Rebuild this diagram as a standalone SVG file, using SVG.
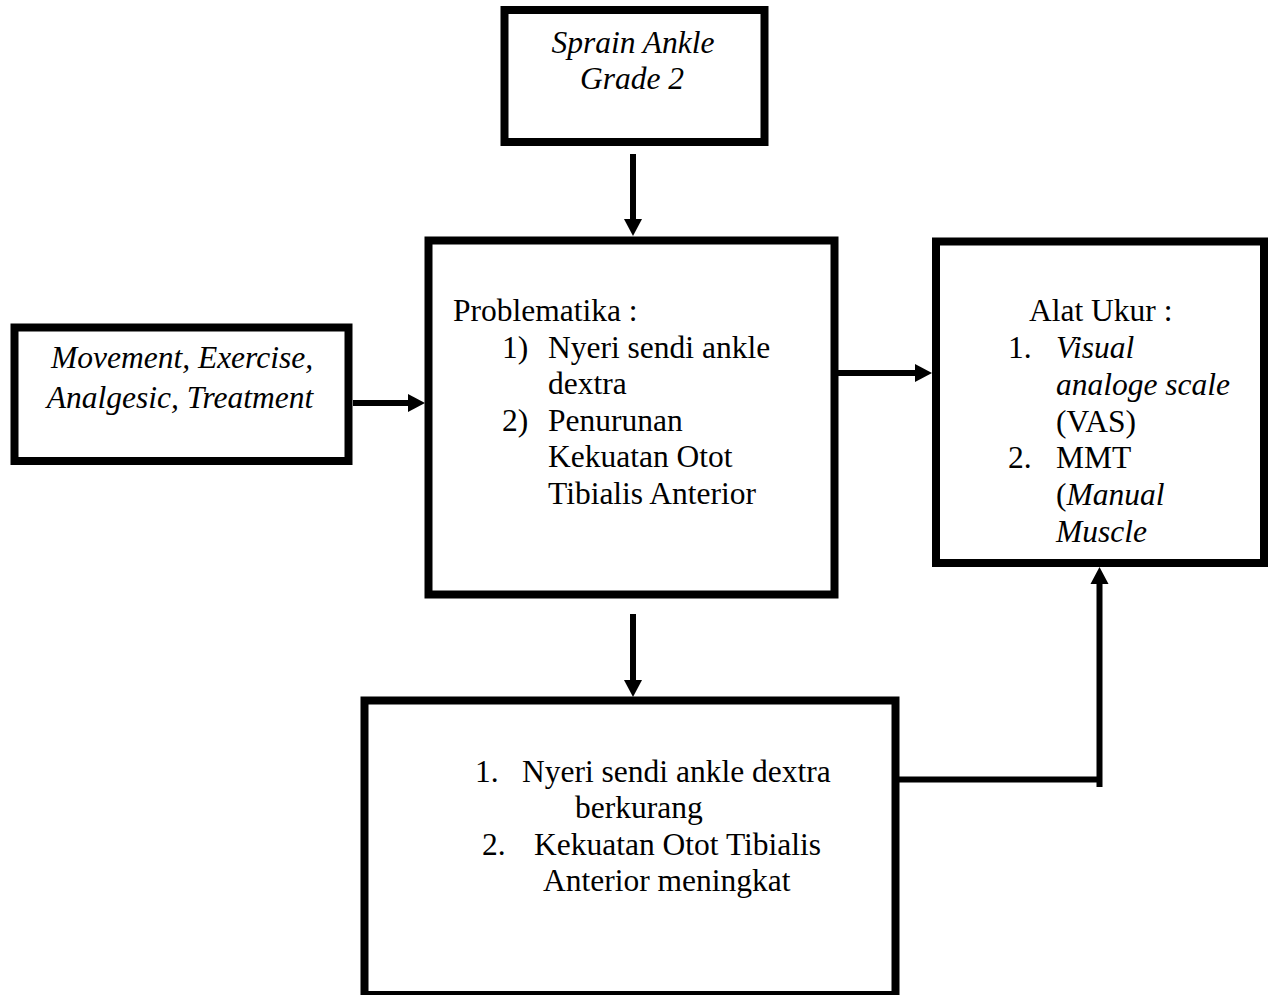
<svg xmlns="http://www.w3.org/2000/svg" width="1268" height="995" viewBox="0 0 1268 995">
<style>
.box{fill:#fff;stroke:#000;stroke-width:8}
.t{font-family:"Liberation Serif","Times New Roman",serif;font-size:31.5px;fill:#000}
.i{font-style:italic}
.c{stroke:#000;stroke-width:6;fill:none}
</style>
<defs>
<marker id="ah" markerUnits="userSpaceOnUse" markerWidth="17" markerHeight="18" refX="0" refY="9" orient="auto" overflow="visible">
<path d="M0,0 L17,9 L0,18 Z" fill="#000"/>
</marker>
</defs>
<rect width="1268" height="995" fill="#fff"/>
<g id="connectors">
<line class="c" x1="633" y1="154" x2="633" y2="219" marker-end="url(#ah)"/>
<line class="c" x1="353" y1="403" x2="408" y2="403" marker-end="url(#ah)"/>
<line class="c" x1="838" y1="373" x2="915" y2="373" marker-end="url(#ah)"/>
<line class="c" x1="633" y1="614" x2="633" y2="680" marker-end="url(#ah)"/>
<line class="c" x1="899" y1="779.5" x2="1102" y2="779.5"/>
<line class="c" x1="1099.5" y1="787" x2="1099.5" y2="584" marker-end="url(#ah)"/>
</g>
<g id="sprain">
<rect class="box" x="504.5" y="10" width="260" height="132" stroke-width="7"/>
<text class="t i" x="633" y="53" text-anchor="middle">Sprain Ankle</text>
<text class="t i" x="632" y="89" text-anchor="middle">Grade 2</text>
</g>
<g id="intervensi">
<rect class="box" x="14.5" y="327.5" width="334" height="133.5" stroke-width="8.5"/>
<text class="t i" x="182" y="368" text-anchor="middle">Movement, Exercise,</text>
<text class="t i" x="180" y="408" text-anchor="middle">Analgesic, Treatment</text>
</g>
<g id="problematika">
<rect class="box" x="428.5" y="240.5" width="406" height="354"/>
<text class="t" x="453" y="321">Problematika :</text>
<text class="t" x="502" y="357.6">1)</text>
<text class="t" x="548" y="357.6">Nyeri sendi ankle</text>
<text class="t" x="548" y="394.2">dextra</text>
<text class="t" x="502" y="430.8">2)</text>
<text class="t" x="548" y="430.8">Penurunan</text>
<text class="t" x="548" y="467.4">Kekuatan Otot</text>
<text class="t" x="548" y="504">Tibialis Anterior</text>
</g>
<g id="alatukur">
<rect class="box" x="936" y="241.5" width="328" height="321.5"/>
<text class="t" x="1029" y="321">Alat Ukur :</text>
<text class="t" x="1008" y="358">1.</text>
<text class="t i" x="1056" y="358">Visual</text>
<text class="t i" x="1056" y="395">analoge scale</text>
<text class="t" x="1056" y="432">(VAS)</text>
<text class="t" x="1008" y="468">2.</text>
<text class="t" x="1056" y="468">MMT</text>
<text class="t" x="1056" y="505">(<tspan class="i">Manual</tspan></text>
<text class="t i" x="1056" y="542">Muscle</text>
</g>
<g id="hasil">
<rect class="box" x="364.5" y="700.5" width="531" height="294.5"/>
<text class="t" x="475" y="782">1.</text>
<text class="t" x="522" y="782">Nyeri sendi ankle dextra</text>
<text class="t" x="575" y="818">berkurang</text>
<text class="t" x="482" y="855">2.</text>
<text class="t" x="534" y="855">Kekuatan Otot Tibialis</text>
<text class="t" x="543" y="891">Anterior meningkat</text>
</g>
</svg>
